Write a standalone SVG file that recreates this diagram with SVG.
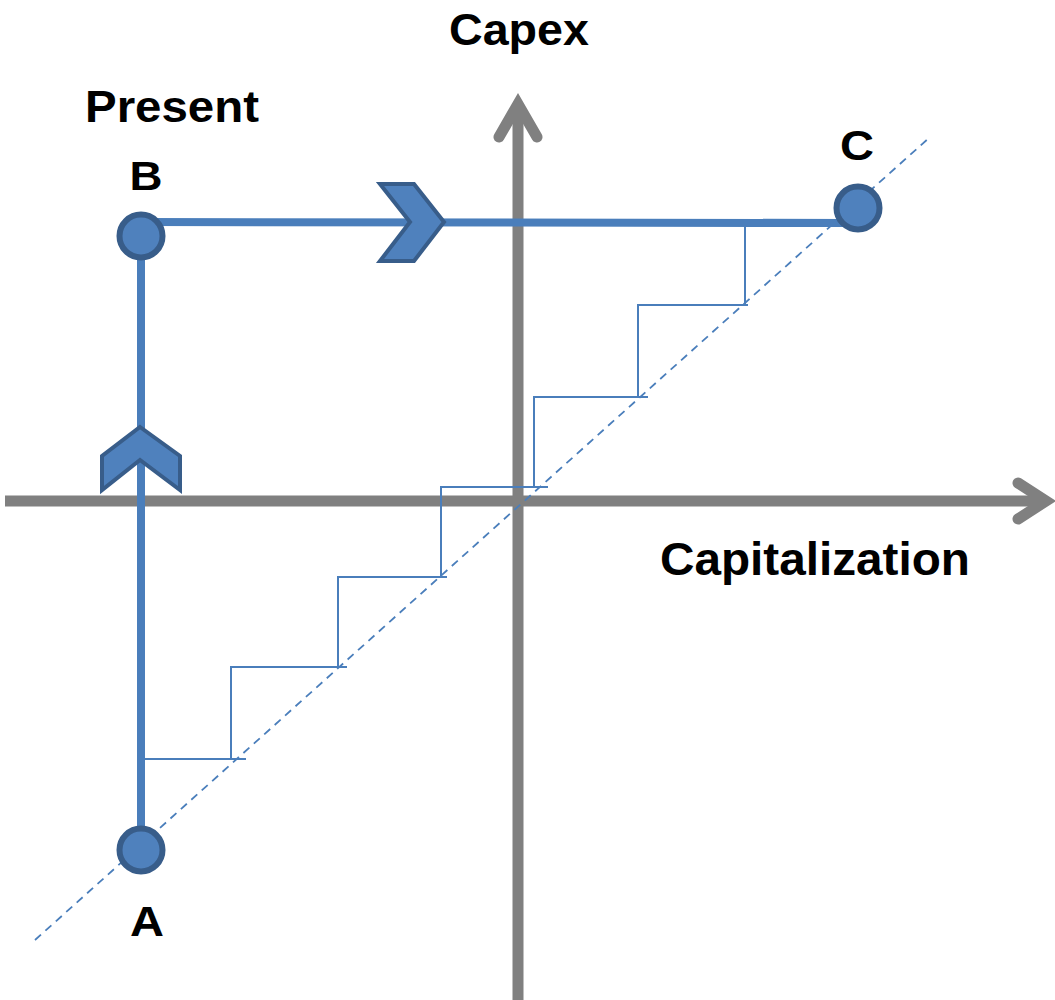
<svg xmlns="http://www.w3.org/2000/svg" width="1055" height="1000" viewBox="0 0 1055 1000">
  <style>
    .axis { stroke: #808080; stroke-width: 11; fill: none; }
    .axhead { stroke: #808080; stroke-width: 11; fill: none; stroke-linecap: round; stroke-linejoin: miter; }
    .thick { stroke: #4a7ebb; stroke-width: 8; fill: none; }
    .thin { stroke: #4a7ebb; stroke-width: 2; fill: none; }
    .dash { stroke: #4a7ebb; stroke-width: 1.8; fill: none; stroke-dasharray: 8 6; }
    .pt { fill: #4f81bd; stroke: #385d8a; stroke-width: 6; }
    .chev { fill: #4f81bd; stroke: #385d8a; stroke-width: 4; stroke-linejoin: miter; }
    .lbl { font-family: "Liberation Sans", Arial, sans-serif; font-weight: bold; fill: #000; text-anchor: middle; }
  </style>
  <rect width="1055" height="1000" fill="#ffffff"/>
  <g id="axes">
    <line class="axis" x1="5" y1="501" x2="1043" y2="501"/>
    <polyline class="axhead" points="1018,483 1046,501 1018,519"/>
    <line class="axis" x1="518" y1="1000" x2="518" y2="106"/>
    <polyline class="axhead" points="499,137 518,104 537,137"/>
  </g>
  <g id="connectors">
    <path class="thin" d="M145,759 H246 M231,759 V667 H347 M338,667 V577 H447 M441,577 V487 H548 M534,487 V397 H648 M638,397 V305 H748 M745,305 V224"/>
    <line class="dash" x1="35" y1="940" x2="930" y2="137"/>
    <line class="thick" x1="141" y1="850" x2="141" y2="236"/>
    <line class="thick" x1="146" y1="222" x2="850" y2="223"/>
    <polygon class="chev" points="380,184 414,184 444,222 414,261 380,261 410,222"/>
    <polygon class="chev" points="140,427 180,456 180,490 140,460 102,490 102,456"/>
  </g>
  <g id="node-A">
    <circle class="pt" cx="141" cy="850" r="21.5"/>
    <text class="lbl" x="147" y="936" font-size="42" textLength="34" lengthAdjust="spacingAndGlyphs">A</text>
  </g>
  <g id="node-B">
    <circle class="pt" cx="141" cy="236" r="21.5"/>
    <text class="lbl" x="146" y="190" font-size="40" textLength="33" lengthAdjust="spacingAndGlyphs">B</text>
  </g>
  <g id="node-C">
    <circle class="pt" cx="858" cy="208" r="21.5"/>
    <text class="lbl" x="857" y="160" font-size="42" textLength="34" lengthAdjust="spacingAndGlyphs">C</text>
  </g>
  <g id="labels">
    <text class="lbl" x="519" y="45" font-size="44" textLength="140" lengthAdjust="spacingAndGlyphs">Capex</text>
    <text class="lbl" x="172" y="122" font-size="44" textLength="174" lengthAdjust="spacingAndGlyphs">Present</text>
    <text class="lbl" x="815" y="575" font-size="46" textLength="310" lengthAdjust="spacingAndGlyphs">Capitalization</text>
  </g>
</svg>
